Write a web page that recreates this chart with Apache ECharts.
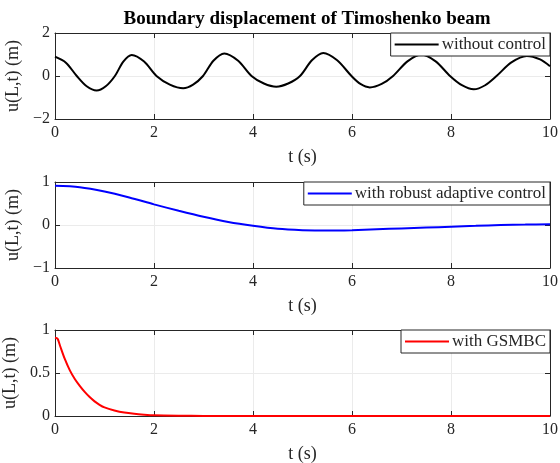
<!DOCTYPE html>
<html>
<head>
<meta charset="utf-8">
<script src="https://cdn.jsdelivr.net/npm/echarts@6/dist/echarts.min.js"></script>
<style>
  html, body { margin: 0; padding: 0; background: #fff; }
  #main { width: 560px; height: 463px; }
</style>
</head>
<body>
<div id="main"></div>
<script>
  // values
  const T_FREE = [0, 0.22, 0.44, 0.64, 0.84, 1.025, 1.21, 1.38, 1.55, 1.8, 2.05, 2.32, 2.59, 2.79, 2.99, 3.2, 3.42, 3.7, 3.97, 4.22, 4.47, 4.71, 4.95, 5.19, 5.42, 5.7, 5.99, 6.17, 6.36, 6.6, 6.83, 7.12, 7.4, 7.69, 7.98, 8.22, 8.46, 8.69, 8.92, 9.22, 9.53, 9.8, 10]
  const U_FREE = [0.9, 0.62, 0, -0.48, -0.68, -0.48, 0, 0.67, 0.98, 0.67, 0, -0.4, -0.57, -0.4, 0, 0.71, 1.05, 0.71, 0, -0.35, -0.5, -0.35, 0, 0.73, 1.07, 0.73, 0, -0.37, -0.53, -0.37, 0, 0.68, 1.0, 0.68, 0, -0.43, -0.62, -0.43, 0, 0.63, 0.93, 0.77, 0.45]

  const T_RAC = [0, 0.5, 1, 1.5, 2, 2.5, 3, 3.5, 4, 4.5, 5, 5.5, 6, 6.5, 7, 7.5, 8, 8.5, 9, 9.5, 10]
  const U_RAC = [0.91, 0.88, 0.78, 0.64, 0.48, 0.33, 0.19, 0.07, -0.02, -0.09, -0.12, -0.13, -0.12, -0.1, -0.08, -0.06, -0.04, -0.02, 0.0, 0.01, 0.02]

  const T_GSM = [0, 0.05, 0.1, 0.2, 0.3, 0.4, 0.5, 0.6, 0.7, 0.8, 0.9, 1.0, 1.2, 1.4, 1.6, 1.8, 2, 2.5, 3, 4, 5, 6, 7, 8, 9, 10]
  const U_GSM = [0.91, 0.9, 0.82, 0.66, 0.53, 0.43, 0.35, 0.28, 0.22, 0.17, 0.13, 0.1, 0.065, 0.04, 0.025, 0.015, 0.008, 0.003, 0.001, 0, 0, 0, 0, 0, 0, 0]

  const NAMES = ['without control', 'with robust adaptive control', 'with GSMBC']
  const COLORS = ['#000000', '#0000ff', '#ff0000']
  const YRANGE = [[-2, 2, 2], [-1, 1, 1], [0, 1, 0.5]]
  const GRID_TOP = [33, 182, 330]

  const FONT = 'Liberation Serif'
  const AX = '#262626'

  const pairs = (t, u) => t.map((x, i) => [x, u[i]])
  const DATA = [pairs(T_FREE, U_FREE), pairs(T_RAC, U_RAC), pairs(T_GSM, U_GSM)]

  var chart = echarts.init(document.getElementById('main'), null, { renderer: 'canvas' })

  const grid = [], xAxis = [], yAxis = [], series = [], legend = []
  for (let k = 0; k < 3; k++) {
    grid.push({ left: 55, right: 10, top: GRID_TOP[k], height: 86, outerBoundsMode: 'none' })
    // bottom x axis with labels
    xAxis.push({
      type: 'value', gridIndex: k, min: 0, max: 10, interval: 2,
      name: 't (s)', nameLocation: 'middle', nameGap: 29,
      nameTextStyle: { fontFamily: FONT, fontSize: 18, color: AX },
      axisLine: { onZero: false, lineStyle: { color: AX, width: 1 } },
      axisTick: { inside: true, length: 5, lineStyle: { color: AX } },
      axisLabel: { fontFamily: FONT, fontSize: 16, color: AX, margin: 6 },
      splitLine: { show: true, lineStyle: { color: '#ebebeb', width: 1 } }
    })
    // top mirror
    xAxis.push({
      type: 'value', gridIndex: k, min: 0, max: 10, interval: 2, position: 'top',
      axisLine: { onZero: false, lineStyle: { color: AX, width: 1 } },
      axisTick: { inside: true, length: 5, lineStyle: { color: AX } },
      axisLabel: { show: false }, splitLine: { show: false }
    })
    yAxis.push({
      type: 'value', gridIndex: k, min: YRANGE[k][0], max: YRANGE[k][1], interval: YRANGE[k][2],
      name: 'u(L,t) (m)', nameLocation: 'middle', nameGap: 29,
      nameTextStyle: { fontFamily: FONT, fontSize: 18, color: AX },
      axisLine: { show: true, onZero: false, lineStyle: { color: AX, width: 1 } },
      axisTick: { show: true, inside: true, length: 5, lineStyle: { color: AX } },
      axisLabel: { fontFamily: FONT, fontSize: 16, color: AX, margin: 5,
        formatter: v => (v < 0 ? '\u2212' + Math.abs(v) : String(v)) },
      splitLine: { show: true, lineStyle: { color: '#ebebeb', width: 1 } }
    })
    yAxis.push({
      type: 'value', gridIndex: k, min: YRANGE[k][0], max: YRANGE[k][1], interval: YRANGE[k][2], position: 'right',
      axisLine: { show: true, onZero: false, lineStyle: { color: AX, width: 1 } },
      axisTick: { show: true, inside: true, length: 5, lineStyle: { color: AX } },
      axisLabel: { show: false }, splitLine: { show: false }
    })
    series.push({
      name: NAMES[k], type: 'line', xAxisIndex: 2 * k, yAxisIndex: 2 * k,
      data: DATA[k], symbol: 'none', smooth: 0.3,
      lineStyle: { color: COLORS[k], width: 2 }, itemStyle: { color: COLORS[k] },
      z: 3
    })
    legend.push({
      data: [NAMES[k]], right: 10, top: GRID_TOP[k],
      backgroundColor: '#fff', borderColor: AX, borderWidth: 1, borderRadius: 0,
      padding: [3, 4, 3, 4], icon: 'rect', itemWidth: 44, itemHeight: 2, itemGap: 4,
      textStyle: { fontFamily: FONT, fontSize: 17, color: AX, padding: [0, 0, 0, -2] },
      selectedMode: false, z: 10
    })
  }

  let option = {
    backgroundColor: '#fff',
    animation: false,
    title: {
      text: 'Boundary displacement of Timoshenko beam',
      left: 302, top: 5, textAlign: 'center',
      textStyle: { fontFamily: FONT, fontWeight: 'bold', fontSize: 19, color: '#000' }
    },
    grid, xAxis, yAxis, series, legend
  }
  option && chart.setOption(option)
</script>
</body>
</html>
